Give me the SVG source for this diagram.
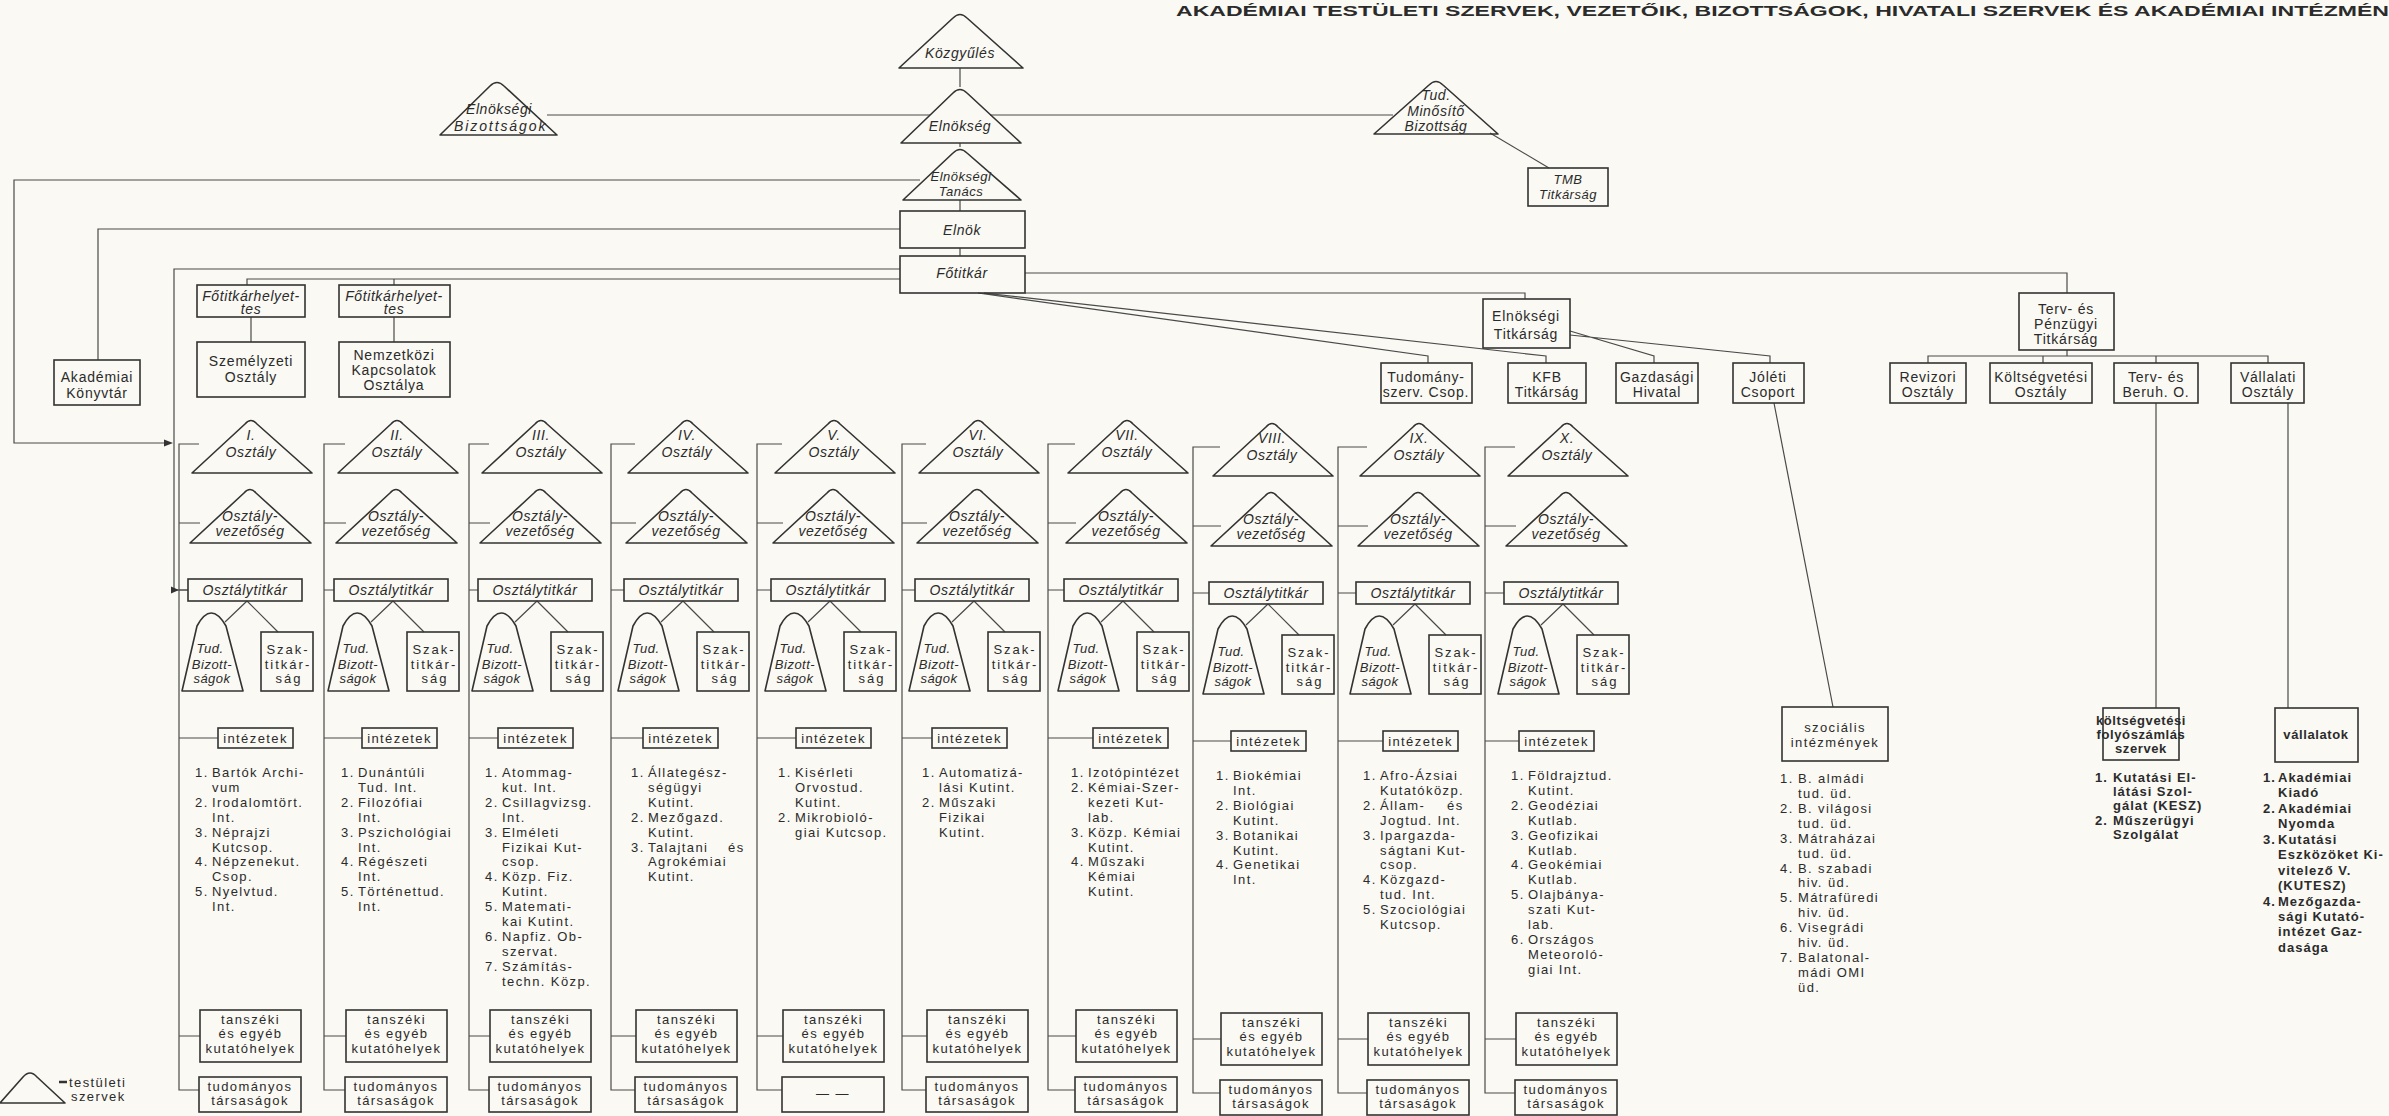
<svg xmlns="http://www.w3.org/2000/svg" width="2389" height="1116" viewBox="0 0 2389 1116">
<style>
.ln{fill:none;stroke:#4a4a4a;stroke-width:1.2}
.bx{fill:none;stroke:#333;stroke-width:1.6}
.tri{fill:none;stroke:#333;stroke-width:1.6;stroke-linejoin:round}
text{font-family:"Liberation Sans",Arial,sans-serif;fill:#2b2b2b}
.it{font-style:italic;font-size:14px;letter-spacing:0.6px;text-anchor:middle}
.its{font-style:italic;font-size:13px;letter-spacing:0.5px;text-anchor:middle}
.bt{font-size:14px;letter-spacing:0.8px;text-anchor:middle}
.sz{font-size:13px;letter-spacing:2px;text-anchor:middle}
.lb{font-size:13px;letter-spacing:1.4px;text-anchor:middle}
.li{font-size:13px;letter-spacing:1.4px}
.lbb{font-size:13px;font-weight:bold;letter-spacing:0.6px;text-anchor:middle}
.lib{font-size:13px;font-weight:bold;letter-spacing:1px}
.title{font-size:15px;font-weight:bold}
</style>
<rect width="2389" height="1116" fill="#faf9f3"/>
<text class="title" x="1176" y="16" textLength="1213" lengthAdjust="spacingAndGlyphs">AKADÉMIAI TESTÜLETI SZERVEK, VEZETŐIK, BIZOTTSÁGOK, HIVATALI SZERVEK ÉS AKADÉMIAI INTÉZMÉN</text>

<g id="connectors">
<path class="ln" d="M960,68 V87 M960,143 V147 M960,200 V211 M960,248 V256"/>
<path class="ln" d="M547,115 H930 M990,115 H1393"/>
<path class="ln" d="M1490,133 L1549,168"/>
<path class="ln" d="M920,180 H14 V443 H168"/>
<polygon points="164,439.5 173,443 164,446.5" fill="#333"/>
<path class="ln" d="M900,229 H98 V360"/>
<path class="ln" d="M900,269 H174 V590 H188"/>
<polygon points="171,586.5 179,590 171,593.5" fill="#333"/>
<path class="ln" d="M900,279 H247 V285 M394,279 V285 M251,317 V342 M394,317 V342"/>
<path class="ln" d="M1025,273 H2067 V293"/>
<path class="ln" d="M1025,293 H1525 V299"/>
<path class="ln" d="M978,293 L1428,356 V363 M984,293 L1546,356 V363"/>
<path class="ln" d="M1570,331 L1654,356 V363 M1570,335 L1770,356 V363"/>
<path class="ln" d="M2067,350 V356 M1928,363 V356 H2268 V363 M2043,356 V363 M2156,356 V363"/>
<path class="ln" d="M2156,403 V708 M2288,403 V708 M1774,403 L1833,707"/>
<g transform="translate(179,0)"><path class="ln" d="M20,444 H0 V1090 H20 M0,523 H21 M0,590 H9 M0,738 H39 M0,1036 H21 M68,601 L46,622 M68,601 L99,632"/></g>
<g transform="translate(324,0)"><path class="ln" d="M21,444 H0 V1090 H21 M0,523 H22 M0,590 H10 M0,738 H38 M0,1036 H22 M69,601 L47,622 M69,601 L100,632"/></g>
<g transform="translate(469,0)"><path class="ln" d="M20,444 H0 V1090 H20 M0,523 H21 M0,590 H9 M0,738 H29 M0,1036 H21 M68,601 L46,622 M68,601 L99,632"/></g>
<g transform="translate(611,0)"><path class="ln" d="M24,444 H0 V1090 H24 M0,523 H25 M0,590 H13 M0,738 H32 M0,1036 H25 M72,601 L50,622 M72,601 L103,632"/></g>
<g transform="translate(757,0)"><path class="ln" d="M25,444 H0 V1090 H25 M0,523 H26 M0,590 H14 M0,738 H39 M0,1036 H26 M73,601 L51,622 M73,601 L104,632"/></g>
<g transform="translate(902,0)"><path class="ln" d="M24,444 H0 V1090 H24 M0,523 H25 M0,590 H13 M0,738 H30 M0,1036 H25 M72,601 L50,622 M72,601 L103,632"/></g>
<g transform="translate(1048,0)"><path class="ln" d="M27,444 H0 V1090 H27 M0,523 H28 M0,590 H16 M0,738 H45 M0,1036 H28 M75,601 L53,622 M75,601 L106,632"/></g>
<g transform="translate(1193,3)"><path class="ln" d="M27,444 H0 V1090 H27 M0,523 H28 M0,590 H16 M0,738 H38 M0,1036 H28 M75,601 L53,622 M75,601 L106,632"/></g>
<g transform="translate(1338,3)"><path class="ln" d="M29,444 H0 V1090 H29 M0,523 H30 M0,590 H18 M0,738 H45 M0,1036 H30 M77,601 L55,622 M77,601 L108,632"/></g>
<g transform="translate(1485,3)"><path class="ln" d="M30,444 H0 V1090 H30 M0,523 H31 M0,590 H19 M0,738 H34 M0,1036 H31 M78,601 L56,622 M78,601 L109,632"/></g>
</g>

<g id="kozgyules"><path class="tri" d="M899,68 L953,18 Q960,11 967,18 L1023,68 Z"/><text class="it" x="960" y="58">Közgyűlés</text></g>
<g id="elnokseg"><path class="tri" d="M901,143 L953,93 Q960,86 967,93 L1021,143 Z"/><text class="it" x="960" y="131">Elnökség</text></g>
<g id="elnoksegi-tanacs"><path class="tri" d="M903,200 L953,153 Q960,146 967,153 L1021,200 Z"/><text class="its" x="961" y="181">Elnökségi</text><text class="its" x="961" y="196">Tanács</text></g>
<g id="elnok"><rect class="bx" x="900" y="211" width="125" height="37"/><text class="it" x="962" y="235">Elnök</text></g>
<g id="fotitkar"><rect class="bx" x="900" y="256" width="125" height="37"/><text class="it" x="962" y="278">Főtitkár</text></g>
<g id="elnoksegi-bizottsagok"><path class="tri" d="M440,135 L490,86 Q497,79 504,86 L557,135 Z"/><text class="it" x="499" y="114">Elnökségi</text><text class="it" x="500" y="131" textLength="92" lengthAdjust="spacing">Bizottságok</text></g>
<g id="tud-minosito"><path class="tri" d="M1374,134 L1429,85 Q1436,78 1443,85 L1498,134 Z"/><text class="it" x="1436" y="100">Tud.</text><text class="it" x="1436" y="116">Minősítő</text><text class="it" x="1436" y="131">Bizottság</text></g>
<g id="tmb-titkarsag"><rect class="bx" x="1528" y="168" width="80" height="38"/><text class="its" x="1568" y="184">TMB</text><text class="its" x="1568" y="199">Titkárság</text></g>
<g id="akademiai-konyvtar"><rect class="bx" x="54" y="360" width="86" height="45"/><text class="bt" x="97" y="382">Akadémiai</text><text class="bt" x="97" y="398">Könyvtár</text></g>
<g id="fotitkarhelyettes-1"><rect class="bx" x="197" y="285" width="108" height="32"/><text class="it" x="251" y="301">Főtitkárhelyet-</text><text class="it" x="251" y="314">tes</text></g>
<g id="fotitkarhelyettes-2"><rect class="bx" x="339" y="285" width="111" height="32"/><text class="it" x="394" y="301">Főtitkárhelyet-</text><text class="it" x="394" y="314">tes</text></g>
<g id="szemelyzeti"><rect class="bx" x="197" y="342" width="108" height="55"/><text class="bt" x="251" y="366">Személyzeti</text><text class="bt" x="251" y="382">Osztály</text></g>
<g id="nemzetkozi"><rect class="bx" x="339" y="342" width="111" height="55"/><text class="bt" x="394" y="360">Nemzetközi</text><text class="bt" x="394" y="375">Kapcsolatok</text><text class="bt" x="394" y="390">Osztálya</text></g>
<g id="elnoksegi-titkarsag"><rect class="bx" x="1483" y="299" width="87" height="49"/><text class="bt" x="1526" y="321">Elnökségi</text><text class="bt" x="1526" y="339">Titkárság</text></g>
<g id="terv-penzugyi"><rect class="bx" x="2019" y="293" width="95" height="57"/><text class="bt" x="2066" y="314">Terv- és</text><text class="bt" x="2066" y="329">Pénzügyi</text><text class="bt" x="2066" y="344">Titkárság</text></g>
<g id="tudomanyszerv"><rect class="bx" x="1381" y="363" width="91" height="40"/><text class="bt" x="1426" y="382">Tudomány-</text><text class="bt" x="1426" y="397">szerv. Csop.</text></g>
<g id="kfb"><rect class="bx" x="1508" y="363" width="78" height="40"/><text class="bt" x="1547" y="382">KFB</text><text class="bt" x="1547" y="397">Titkárság</text></g>
<g id="gazdasagi"><rect class="bx" x="1616" y="363" width="82" height="40"/><text class="bt" x="1657" y="382">Gazdasági</text><text class="bt" x="1657" y="397">Hivatal</text></g>
<g id="joleti"><rect class="bx" x="1733" y="363" width="71" height="40"/><text class="bt" x="1768" y="382">Jóléti</text><text class="bt" x="1768" y="397">Csoport</text></g>
<g id="revizori"><rect class="bx" x="1890" y="363" width="76" height="40"/><text class="bt" x="1928" y="382">Revizori</text><text class="bt" x="1928" y="397">Osztály</text></g>
<g id="koltsegvetesi"><rect class="bx" x="1990" y="363" width="102" height="40"/><text class="bt" x="2041" y="382">Költségvetési</text><text class="bt" x="2041" y="397">Osztály</text></g>
<g id="terv-beruh"><rect class="bx" x="2114" y="363" width="84" height="40"/><text class="bt" x="2156" y="382">Terv- és</text><text class="bt" x="2156" y="397">Beruh. O.</text></g>
<g id="vallalati"><rect class="bx" x="2231" y="363" width="73" height="40"/><text class="bt" x="2268" y="382">Vállalati</text><text class="bt" x="2268" y="397">Osztály</text></g>

<g id="szocialis"><rect class="bx" x="1782" y="707" width="106" height="54"/><text class="lb" x="1835" y="732">szociális</text><text class="lb" x="1835" y="747">intézmények</text>
<text class="li"><tspan x="1780" y="783">1.</tspan><tspan x="1798" y="783">B. almádi</tspan><tspan x="1798" y="798">tud. üd.</tspan><tspan x="1780" y="813">2.</tspan><tspan x="1798" y="813">B. világosi</tspan><tspan x="1798" y="828">tud. üd.</tspan><tspan x="1780" y="843">3.</tspan><tspan x="1798" y="843">Mátraházai</tspan><tspan x="1798" y="858">tud. üd.</tspan><tspan x="1780" y="873">4.</tspan><tspan x="1798" y="873">B. szabadi</tspan><tspan x="1798" y="887">hiv. üd.</tspan><tspan x="1780" y="902">5.</tspan><tspan x="1798" y="902">Mátrafüredi</tspan><tspan x="1798" y="917">hiv. üd.</tspan><tspan x="1780" y="932">6.</tspan><tspan x="1798" y="932">Visegrádi</tspan><tspan x="1798" y="947">hiv. üd.</tspan><tspan x="1780" y="962">7.</tspan><tspan x="1798" y="962">Balatonal-</tspan><tspan x="1798" y="977">mádi OMI</tspan><tspan x="1798" y="992">üd.</tspan></text></g>
<g id="koltsegvetesi-szervek"><rect class="bx" x="2103" y="708" width="76" height="52"/><text class="lbb" x="2141" y="725">költségvetési</text><text class="lbb" x="2141" y="739">folyószámlás</text><text class="lbb" x="2141" y="753">szervek</text>
<text class="lib"><tspan x="2095" y="782">1.</tspan><tspan x="2113" y="782">Kutatási El-</tspan><tspan x="2113" y="796">látási Szol-</tspan><tspan x="2113" y="810">gálat (KESZ)</tspan><tspan x="2095" y="825">2.</tspan><tspan x="2113" y="825">Műszerügyi</tspan><tspan x="2113" y="839">Szolgálat</tspan></text></g>
<g id="vallalatok"><rect class="bx" x="2275" y="708" width="83" height="54"/><text class="lbb" x="2316" y="739">vállalatok</text>
<text class="lib"><tspan x="2263" y="782">1.</tspan><tspan x="2278" y="782">Akadémiai</tspan><tspan x="2278" y="797">Kiadó</tspan><tspan x="2263" y="813">2.</tspan><tspan x="2278" y="813">Akadémiai</tspan><tspan x="2278" y="828">Nyomda</tspan><tspan x="2263" y="844">3.</tspan><tspan x="2278" y="844">Kutatási</tspan><tspan x="2278" y="859">Eszközöket Ki-</tspan><tspan x="2278" y="875">vitelező V.</tspan><tspan x="2278" y="890">(KUTESZ)</tspan><tspan x="2263" y="906">4.</tspan><tspan x="2278" y="906">Mezőgazda-</tspan><tspan x="2278" y="921">sági Kutató-</tspan><tspan x="2278" y="936">intézet Gaz-</tspan><tspan x="2278" y="952">dasága</tspan></text></g>

<g id="legend"><path class="tri" d="M0,1103 L23,1077 Q30,1069 37,1077 L65,1103 Z"/><line x1="59" y1="1082" x2="67" y2="1082" stroke="#333" stroke-width="2.5"/><text class="li" x="69" y="1087">testületi</text><text class="li" x="71" y="1101">szervek</text></g>

<!-- Column I -->
<g id="osztaly-I" transform="translate(179,0)">
<path class="tri" d="M13,473 L66,424 Q72,417 78,424 L133,473 Z"/><text class="it" x="72" y="440">I.</text><text class="it" x="72" y="457">Osztály</text>
<path class="tri" d="M11,543 L65,493 Q71,486 77,493 L132,543 Z"/><text class="it" x="71" y="521">Osztály-</text><text class="it" x="71" y="536">vezetőség</text>
<rect class="bx" x="9" y="579" width="114" height="22"/><text class="it" x="66" y="595">Osztálytitkár</text>
<path class="tri" d="M3,691 L18,626 Q32,600 47,626 L64,691 Z"/><text class="its" x="31" y="653">Tud.</text><text class="its" x="33" y="669">Bizott-</text><text class="its" x="33" y="683">ságok</text>
<rect class="bx" x="82" y="632" width="52" height="59"/><text class="sz" x="109" y="654">Szak-</text><text class="sz" x="109" y="669">titkár-</text><text class="sz" x="110" y="683">ság</text>
<rect class="bx" x="39" y="728" width="75" height="20"/><text class="lb" x="76.5" y="743">intézetek</text>
<text class="li"><tspan x="16" y="777">1.</tspan><tspan x="33" y="777">Bartók Archi-</tspan><tspan x="33" y="792">vum</tspan><tspan x="16" y="807">2.</tspan><tspan x="33" y="807">Irodalomtört.</tspan><tspan x="33" y="822">Int.</tspan><tspan x="16" y="837">3.</tspan><tspan x="33" y="837">Néprajzi</tspan><tspan x="33" y="852">Kutcsop.</tspan><tspan x="16" y="866">4.</tspan><tspan x="33" y="866">Népzenekut.</tspan><tspan x="33" y="881">Csop.</tspan><tspan x="16" y="896">5.</tspan><tspan x="33" y="896">Nyelvtud.</tspan><tspan x="33" y="911">Int.</tspan></text>
<rect class="bx" x="21" y="1010" width="101" height="52"/><text class="lb" x="71.5" y="1024">tanszéki</text><text class="lb" x="71.5" y="1038">és egyéb</text><text class="lb" x="71.5" y="1053">kutatóhelyek</text>
<rect class="bx" x="20" y="1077" width="102" height="35"/><text class="lb" x="71" y="1091">tudományos</text><text class="lb" x="71" y="1105">társaságok</text>
</g>

<!-- Column II -->
<g id="osztaly-II" transform="translate(325,0)">
<path class="tri" d="M13,473 L66,424 Q72,417 78,424 L133,473 Z"/><text class="it" x="72" y="440">II.</text><text class="it" x="72" y="457">Osztály</text>
<path class="tri" d="M11,543 L65,493 Q71,486 77,493 L132,543 Z"/><text class="it" x="71" y="521">Osztály-</text><text class="it" x="71" y="536">vezetőség</text>
<rect class="bx" x="9" y="579" width="114" height="22"/><text class="it" x="66" y="595">Osztálytitkár</text>
<path class="tri" d="M3,691 L18,626 Q32,600 47,626 L64,691 Z"/><text class="its" x="31" y="653">Tud.</text><text class="its" x="33" y="669">Bizott-</text><text class="its" x="33" y="683">ságok</text>
<rect class="bx" x="82" y="632" width="52" height="59"/><text class="sz" x="109" y="654">Szak-</text><text class="sz" x="109" y="669">titkár-</text><text class="sz" x="110" y="683">ság</text>
<rect class="bx" x="37" y="728" width="75" height="20"/><text class="lb" x="74.5" y="743">intézetek</text>
<text class="li"><tspan x="16" y="777">1.</tspan><tspan x="33" y="777">Dunántúli</tspan><tspan x="33" y="792">Tud. Int.</tspan><tspan x="16" y="807">2.</tspan><tspan x="33" y="807">Filozófiai</tspan><tspan x="33" y="822">Int.</tspan><tspan x="16" y="837">3.</tspan><tspan x="33" y="837">Pszichológiai</tspan><tspan x="33" y="852">Int.</tspan><tspan x="16" y="866">4.</tspan><tspan x="33" y="866">Régészeti</tspan><tspan x="33" y="881">Int.</tspan><tspan x="16" y="896">5.</tspan><tspan x="33" y="896">Történettud.</tspan><tspan x="33" y="911">Int.</tspan></text>
<rect class="bx" x="21" y="1010" width="101" height="52"/><text class="lb" x="71.5" y="1024">tanszéki</text><text class="lb" x="71.5" y="1038">és egyéb</text><text class="lb" x="71.5" y="1053">kutatóhelyek</text>
<rect class="bx" x="20" y="1077" width="102" height="35"/><text class="lb" x="71" y="1091">tudományos</text><text class="lb" x="71" y="1105">társaságok</text>
</g>

<!-- Column III -->
<g id="osztaly-III" transform="translate(469,0)">
<path class="tri" d="M13,473 L66,424 Q72,417 78,424 L133,473 Z"/><text class="it" x="72" y="440">III.</text><text class="it" x="72" y="457">Osztály</text>
<path class="tri" d="M11,543 L65,493 Q71,486 77,493 L132,543 Z"/><text class="it" x="71" y="521">Osztály-</text><text class="it" x="71" y="536">vezetőség</text>
<rect class="bx" x="9" y="579" width="114" height="22"/><text class="it" x="66" y="595">Osztálytitkár</text>
<path class="tri" d="M3,691 L18,626 Q32,600 47,626 L64,691 Z"/><text class="its" x="31" y="653">Tud.</text><text class="its" x="33" y="669">Bizott-</text><text class="its" x="33" y="683">ságok</text>
<rect class="bx" x="82" y="632" width="52" height="59"/><text class="sz" x="109" y="654">Szak-</text><text class="sz" x="109" y="669">titkár-</text><text class="sz" x="110" y="683">ság</text>
<rect class="bx" x="29" y="728" width="75" height="20"/><text class="lb" x="66.5" y="743">intézetek</text>
<text class="li"><tspan x="16" y="777">1.</tspan><tspan x="33" y="777">Atommag-</tspan><tspan x="33" y="792">kut. Int.</tspan><tspan x="16" y="807">2.</tspan><tspan x="33" y="807">Csillagvizsg.</tspan><tspan x="33" y="822">Int.</tspan><tspan x="16" y="837">3.</tspan><tspan x="33" y="837">Elméleti</tspan><tspan x="33" y="852">Fizikai Kut-</tspan><tspan x="33" y="866">csop.</tspan><tspan x="16" y="881">4.</tspan><tspan x="33" y="881">Közp. Fiz.</tspan><tspan x="33" y="896">Kutint.</tspan><tspan x="16" y="911">5.</tspan><tspan x="33" y="911">Matemati-</tspan><tspan x="33" y="926">kai Kutint.</tspan><tspan x="16" y="941">6.</tspan><tspan x="33" y="941">Napfiz. Ob-</tspan><tspan x="33" y="956">szervat.</tspan><tspan x="16" y="971">7.</tspan><tspan x="33" y="971">Számítás-</tspan><tspan x="33" y="986">techn. Közp.</tspan></text>
<rect class="bx" x="21" y="1010" width="101" height="52"/><text class="lb" x="71.5" y="1024">tanszéki</text><text class="lb" x="71.5" y="1038">és egyéb</text><text class="lb" x="71.5" y="1053">kutatóhelyek</text>
<rect class="bx" x="20" y="1077" width="102" height="35"/><text class="lb" x="71" y="1091">tudományos</text><text class="lb" x="71" y="1105">társaságok</text>
</g>

<!-- Column IV -->
<g id="osztaly-IV" transform="translate(615,0)">
<path class="tri" d="M13,473 L66,424 Q72,417 78,424 L133,473 Z"/><text class="it" x="72" y="440">IV.</text><text class="it" x="72" y="457">Osztály</text>
<path class="tri" d="M11,543 L65,493 Q71,486 77,493 L132,543 Z"/><text class="it" x="71" y="521">Osztály-</text><text class="it" x="71" y="536">vezetőség</text>
<rect class="bx" x="9" y="579" width="114" height="22"/><text class="it" x="66" y="595">Osztálytitkár</text>
<path class="tri" d="M3,691 L18,626 Q32,600 47,626 L64,691 Z"/><text class="its" x="31" y="653">Tud.</text><text class="its" x="33" y="669">Bizott-</text><text class="its" x="33" y="683">ságok</text>
<rect class="bx" x="82" y="632" width="52" height="59"/><text class="sz" x="109" y="654">Szak-</text><text class="sz" x="109" y="669">titkár-</text><text class="sz" x="110" y="683">ság</text>
<rect class="bx" x="28" y="728" width="75" height="20"/><text class="lb" x="65.5" y="743">intézetek</text>
<text class="li"><tspan x="16" y="777">1.</tspan><tspan x="33" y="777">Állategész-</tspan><tspan x="33" y="792">ségügyi</tspan><tspan x="33" y="807">Kutint.</tspan><tspan x="16" y="822">2.</tspan><tspan x="33" y="822">Mezőgazd.</tspan><tspan x="33" y="837">Kutint.</tspan><tspan x="16" y="852">3.</tspan><tspan x="33" y="852">Talajtani</tspan><tspan x="113" y="852">és</tspan><tspan x="33" y="866">Agrokémiai</tspan><tspan x="33" y="881">Kutint.</tspan></text>
<rect class="bx" x="21" y="1010" width="101" height="52"/><text class="lb" x="71.5" y="1024">tanszéki</text><text class="lb" x="71.5" y="1038">és egyéb</text><text class="lb" x="71.5" y="1053">kutatóhelyek</text>
<rect class="bx" x="20" y="1077" width="102" height="35"/><text class="lb" x="71" y="1091">tudományos</text><text class="lb" x="71" y="1105">társaságok</text>
</g>

<!-- Column V -->
<g id="osztaly-V" transform="translate(762,0)">
<path class="tri" d="M13,473 L66,424 Q72,417 78,424 L133,473 Z"/><text class="it" x="72" y="440">V.</text><text class="it" x="72" y="457">Osztály</text>
<path class="tri" d="M11,543 L65,493 Q71,486 77,493 L132,543 Z"/><text class="it" x="71" y="521">Osztály-</text><text class="it" x="71" y="536">vezetőség</text>
<rect class="bx" x="9" y="579" width="114" height="22"/><text class="it" x="66" y="595">Osztálytitkár</text>
<path class="tri" d="M3,691 L18,626 Q32,600 47,626 L64,691 Z"/><text class="its" x="31" y="653">Tud.</text><text class="its" x="33" y="669">Bizott-</text><text class="its" x="33" y="683">ságok</text>
<rect class="bx" x="82" y="632" width="52" height="59"/><text class="sz" x="109" y="654">Szak-</text><text class="sz" x="109" y="669">titkár-</text><text class="sz" x="110" y="683">ság</text>
<rect class="bx" x="34" y="728" width="75" height="20"/><text class="lb" x="71.5" y="743">intézetek</text>
<text class="li"><tspan x="16" y="777">1.</tspan><tspan x="33" y="777">Kisérleti</tspan><tspan x="33" y="792">Orvostud.</tspan><tspan x="33" y="807">Kutint.</tspan><tspan x="16" y="822">2.</tspan><tspan x="33" y="822">Mikrobioló-</tspan><tspan x="33" y="837">giai Kutcsop.</tspan></text>
<rect class="bx" x="21" y="1010" width="101" height="52"/><text class="lb" x="71.5" y="1024">tanszéki</text><text class="lb" x="71.5" y="1038">és egyéb</text><text class="lb" x="71.5" y="1053">kutatóhelyek</text>
<rect class="bx" x="20" y="1077" width="102" height="35"/><text class="lb" x="71" y="1098">— —</text>
</g>

<!-- Column VI -->
<g id="osztaly-VI" transform="translate(906,0)">
<path class="tri" d="M13,473 L66,424 Q72,417 78,424 L133,473 Z"/><text class="it" x="72" y="440">VI.</text><text class="it" x="72" y="457">Osztály</text>
<path class="tri" d="M11,543 L65,493 Q71,486 77,493 L132,543 Z"/><text class="it" x="71" y="521">Osztály-</text><text class="it" x="71" y="536">vezetőség</text>
<rect class="bx" x="9" y="579" width="114" height="22"/><text class="it" x="66" y="595">Osztálytitkár</text>
<path class="tri" d="M3,691 L18,626 Q32,600 47,626 L64,691 Z"/><text class="its" x="31" y="653">Tud.</text><text class="its" x="33" y="669">Bizott-</text><text class="its" x="33" y="683">ságok</text>
<rect class="bx" x="82" y="632" width="52" height="59"/><text class="sz" x="109" y="654">Szak-</text><text class="sz" x="109" y="669">titkár-</text><text class="sz" x="110" y="683">ság</text>
<rect class="bx" x="26" y="728" width="75" height="20"/><text class="lb" x="63.5" y="743">intézetek</text>
<text class="li"><tspan x="16" y="777">1.</tspan><tspan x="33" y="777">Automatizá-</tspan><tspan x="33" y="792">lási Kutint.</tspan><tspan x="16" y="807">2.</tspan><tspan x="33" y="807">Műszaki</tspan><tspan x="33" y="822">Fizikai</tspan><tspan x="33" y="837">Kutint.</tspan></text>
<rect class="bx" x="21" y="1010" width="101" height="52"/><text class="lb" x="71.5" y="1024">tanszéki</text><text class="lb" x="71.5" y="1038">és egyéb</text><text class="lb" x="71.5" y="1053">kutatóhelyek</text>
<rect class="bx" x="20" y="1077" width="102" height="35"/><text class="lb" x="71" y="1091">tudományos</text><text class="lb" x="71" y="1105">társaságok</text>
</g>

<!-- Column VII -->
<g id="osztaly-VII" transform="translate(1055,0)">
<path class="tri" d="M13,473 L66,424 Q72,417 78,424 L133,473 Z"/><text class="it" x="72" y="440">VII.</text><text class="it" x="72" y="457">Osztály</text>
<path class="tri" d="M11,543 L65,493 Q71,486 77,493 L132,543 Z"/><text class="it" x="71" y="521">Osztály-</text><text class="it" x="71" y="536">vezetőség</text>
<rect class="bx" x="9" y="579" width="114" height="22"/><text class="it" x="66" y="595">Osztálytitkár</text>
<path class="tri" d="M3,691 L18,626 Q32,600 47,626 L64,691 Z"/><text class="its" x="31" y="653">Tud.</text><text class="its" x="33" y="669">Bizott-</text><text class="its" x="33" y="683">ságok</text>
<rect class="bx" x="82" y="632" width="52" height="59"/><text class="sz" x="109" y="654">Szak-</text><text class="sz" x="109" y="669">titkár-</text><text class="sz" x="110" y="683">ság</text>
<rect class="bx" x="38" y="728" width="75" height="20"/><text class="lb" x="75.5" y="743">intézetek</text>
<text class="li"><tspan x="16" y="777">1.</tspan><tspan x="33" y="777">Izotópintézet</tspan><tspan x="16" y="792">2.</tspan><tspan x="33" y="792">Kémiai-Szer-</tspan><tspan x="33" y="807">kezeti Kut-</tspan><tspan x="33" y="822">lab.</tspan><tspan x="16" y="837">3.</tspan><tspan x="33" y="837">Közp. Kémiai</tspan><tspan x="33" y="852">Kutint.</tspan><tspan x="16" y="866">4.</tspan><tspan x="33" y="866">Műszaki</tspan><tspan x="33" y="881">Kémiai</tspan><tspan x="33" y="896">Kutint.</tspan></text>
<rect class="bx" x="21" y="1010" width="101" height="52"/><text class="lb" x="71.5" y="1024">tanszéki</text><text class="lb" x="71.5" y="1038">és egyéb</text><text class="lb" x="71.5" y="1053">kutatóhelyek</text>
<rect class="bx" x="20" y="1077" width="102" height="35"/><text class="lb" x="71" y="1091">tudományos</text><text class="lb" x="71" y="1105">társaságok</text>
</g>

<!-- Column VIII -->
<g id="osztaly-VIII" transform="translate(1200,3)">
<path class="tri" d="M13,473 L66,424 Q72,417 78,424 L133,473 Z"/><text class="it" x="72" y="440">VIII.</text><text class="it" x="72" y="457">Osztály</text>
<path class="tri" d="M11,543 L65,493 Q71,486 77,493 L132,543 Z"/><text class="it" x="71" y="521">Osztály-</text><text class="it" x="71" y="536">vezetőség</text>
<rect class="bx" x="9" y="579" width="114" height="22"/><text class="it" x="66" y="595">Osztálytitkár</text>
<path class="tri" d="M3,691 L18,626 Q32,600 47,626 L64,691 Z"/><text class="its" x="31" y="653">Tud.</text><text class="its" x="33" y="669">Bizott-</text><text class="its" x="33" y="683">ságok</text>
<rect class="bx" x="82" y="632" width="52" height="59"/><text class="sz" x="109" y="654">Szak-</text><text class="sz" x="109" y="669">titkár-</text><text class="sz" x="110" y="683">ság</text>
<rect class="bx" x="31" y="728" width="75" height="20"/><text class="lb" x="68.5" y="743">intézetek</text>
<text class="li"><tspan x="16" y="777">1.</tspan><tspan x="33" y="777">Biokémiai</tspan><tspan x="33" y="792">Int.</tspan><tspan x="16" y="807">2.</tspan><tspan x="33" y="807">Biológiai</tspan><tspan x="33" y="822">Kutint.</tspan><tspan x="16" y="837">3.</tspan><tspan x="33" y="837">Botanikai</tspan><tspan x="33" y="852">Kutint.</tspan><tspan x="16" y="866">4.</tspan><tspan x="33" y="866">Genetikai</tspan><tspan x="33" y="881">Int.</tspan></text>
<rect class="bx" x="21" y="1010" width="101" height="52"/><text class="lb" x="71.5" y="1024">tanszéki</text><text class="lb" x="71.5" y="1038">és egyéb</text><text class="lb" x="71.5" y="1053">kutatóhelyek</text>
<rect class="bx" x="20" y="1077" width="102" height="35"/><text class="lb" x="71" y="1091">tudományos</text><text class="lb" x="71" y="1105">társaságok</text>
</g>

<!-- Column IX -->
<g id="osztaly-IX" transform="translate(1347,3)">
<path class="tri" d="M13,473 L66,424 Q72,417 78,424 L133,473 Z"/><text class="it" x="72" y="440">IX.</text><text class="it" x="72" y="457">Osztály</text>
<path class="tri" d="M11,543 L65,493 Q71,486 77,493 L132,543 Z"/><text class="it" x="71" y="521">Osztály-</text><text class="it" x="71" y="536">vezetőség</text>
<rect class="bx" x="9" y="579" width="114" height="22"/><text class="it" x="66" y="595">Osztálytitkár</text>
<path class="tri" d="M3,691 L18,626 Q32,600 47,626 L64,691 Z"/><text class="its" x="31" y="653">Tud.</text><text class="its" x="33" y="669">Bizott-</text><text class="its" x="33" y="683">ságok</text>
<rect class="bx" x="82" y="632" width="52" height="59"/><text class="sz" x="109" y="654">Szak-</text><text class="sz" x="109" y="669">titkár-</text><text class="sz" x="110" y="683">ság</text>
<rect class="bx" x="36" y="728" width="75" height="20"/><text class="lb" x="73.5" y="743">intézetek</text>
<text class="li"><tspan x="16" y="777">1.</tspan><tspan x="33" y="777">Afro-Ázsiai</tspan><tspan x="33" y="792">Kutatóközp.</tspan><tspan x="16" y="807">2.</tspan><tspan x="33" y="807">Állam-</tspan><tspan x="100" y="807">és</tspan><tspan x="33" y="822">Jogtud. Int.</tspan><tspan x="16" y="837">3.</tspan><tspan x="33" y="837">Ipargazda-</tspan><tspan x="33" y="852">ságtani Kut-</tspan><tspan x="33" y="866">csop.</tspan><tspan x="16" y="881">4.</tspan><tspan x="33" y="881">Közgazd-</tspan><tspan x="33" y="896">tud. Int.</tspan><tspan x="16" y="911">5.</tspan><tspan x="33" y="911">Szociológiai</tspan><tspan x="33" y="926">Kutcsop.</tspan></text>
<rect class="bx" x="21" y="1010" width="101" height="52"/><text class="lb" x="71.5" y="1024">tanszéki</text><text class="lb" x="71.5" y="1038">és egyéb</text><text class="lb" x="71.5" y="1053">kutatóhelyek</text>
<rect class="bx" x="20" y="1077" width="102" height="35"/><text class="lb" x="71" y="1091">tudományos</text><text class="lb" x="71" y="1105">társaságok</text>
</g>

<!-- Column X -->
<g id="osztaly-X" transform="translate(1495,3)">
<path class="tri" d="M13,473 L66,424 Q72,417 78,424 L133,473 Z"/><text class="it" x="72" y="440">X.</text><text class="it" x="72" y="457">Osztály</text>
<path class="tri" d="M11,543 L65,493 Q71,486 77,493 L132,543 Z"/><text class="it" x="71" y="521">Osztály-</text><text class="it" x="71" y="536">vezetőség</text>
<rect class="bx" x="9" y="579" width="114" height="22"/><text class="it" x="66" y="595">Osztálytitkár</text>
<path class="tri" d="M3,691 L18,626 Q32,600 47,626 L64,691 Z"/><text class="its" x="31" y="653">Tud.</text><text class="its" x="33" y="669">Bizott-</text><text class="its" x="33" y="683">ságok</text>
<rect class="bx" x="82" y="632" width="52" height="59"/><text class="sz" x="109" y="654">Szak-</text><text class="sz" x="109" y="669">titkár-</text><text class="sz" x="110" y="683">ság</text>
<rect class="bx" x="24" y="728" width="75" height="20"/><text class="lb" x="61.5" y="743">intézetek</text>
<text class="li"><tspan x="16" y="777">1.</tspan><tspan x="33" y="777">Földrajztud.</tspan><tspan x="33" y="792">Kutint.</tspan><tspan x="16" y="807">2.</tspan><tspan x="33" y="807">Geodéziai</tspan><tspan x="33" y="822">Kutlab.</tspan><tspan x="16" y="837">3.</tspan><tspan x="33" y="837">Geofizikai</tspan><tspan x="33" y="852">Kutlab.</tspan><tspan x="16" y="866">4.</tspan><tspan x="33" y="866">Geokémiai</tspan><tspan x="33" y="881">Kutlab.</tspan><tspan x="16" y="896">5.</tspan><tspan x="33" y="896">Olajbánya-</tspan><tspan x="33" y="911">szati Kut-</tspan><tspan x="33" y="926">lab.</tspan><tspan x="16" y="941">6.</tspan><tspan x="33" y="941">Országos</tspan><tspan x="33" y="956">Meteoroló-</tspan><tspan x="33" y="971">giai Int.</tspan></text>
<rect class="bx" x="21" y="1010" width="101" height="52"/><text class="lb" x="71.5" y="1024">tanszéki</text><text class="lb" x="71.5" y="1038">és egyéb</text><text class="lb" x="71.5" y="1053">kutatóhelyek</text>
<rect class="bx" x="20" y="1077" width="102" height="35"/><text class="lb" x="71" y="1091">tudományos</text><text class="lb" x="71" y="1105">társaságok</text>
</g>
</svg>
